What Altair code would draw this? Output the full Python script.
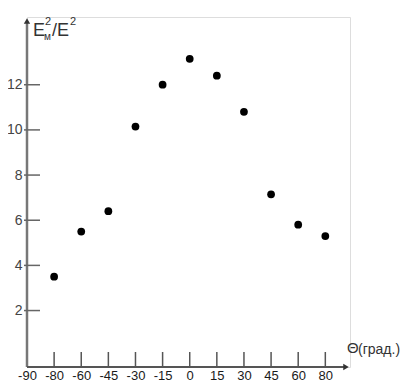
import json
import altair as alt
import pandas as pd

# ---- data ----
tick_labels = ["-90", "-80", "-60", "-45", "-30", "-15", "0", "15", "30", "45", "60", "80"]
point_angles = ["-80", "-60", "-45", "-30", "-15", "0", "15", "30", "45", "60", "80"]
ratio = [3.5, 5.5, 6.4, 10.15, 12.0, 13.15, 12.4, 10.8, 7.15, 5.8, 5.3]
y_ticks = [2, 4, 6, 8, 10, 12]

W, H = 323, 350
FONT = "Liberation Sans, Arial, sans-serif"

pts = pd.DataFrame({
    "angle": point_angles,
    "pos": [tick_labels.index(a) for a in point_angles],
    "ratio": ratio,
})
xt = pd.DataFrame({"pos": list(range(1, len(tick_labels)))})
yt = pd.DataFrame({"ratio": y_ticks})

xscale = alt.Scale(domain=[0, 11.91], nice=False, zero=False)
yscale = alt.Scale(domain=[-0.5, 15], nice=False, zero=False)

label_expr = json.dumps(tick_labels) + "[datum.value]"

xaxis = alt.Axis(values=list(range(len(tick_labels))), labelExpr=label_expr,
                 domain=False, ticks=False, grid=False, title=None,
                 labelPadding=12, labelBaseline="alphabetic",
                 labelFontSize=13, labelColor="#1a1a1a",
                 labelFont=FONT, labelFlush=False, labelOverlap=False)
yaxis = alt.Axis(values=y_ticks, domain=False, ticks=False, grid=False,
                 title=None, labelPadding=5, labelFontSize=14,
                 labelColor="#444", labelFont=FONT, labelOverlap=False)

points = alt.Chart(pts).mark_circle(size=60, color="black", opacity=1).encode(
    x=alt.X("pos:Q", scale=xscale, axis=xaxis),
    y=alt.Y("ratio:Q", scale=yscale, axis=yaxis),
    tooltip=["angle", "ratio"],
)

one = alt.Data(values=[{"k": 1}])

xaxis_line = alt.Chart(one).mark_rule(color="#555", strokeWidth=2).encode(
    x=alt.value(0), x2=alt.value(W - 4), y=alt.value(H))
yaxis_line = alt.Chart(one).mark_rule(color="#777", strokeWidth=2.5).encode(
    x=alt.value(0), y=alt.value(H), y2=alt.value(4))
xarrow = alt.Chart(one).mark_point(shape="triangle-right", filled=True, size=40,
                                   color="#333", opacity=1).encode(
    x=alt.value(W - 4), y=alt.value(H))
yarrow = alt.Chart(one).mark_point(shape="triangle-up", filled=True, size=40,
                                   color="#333", opacity=1).encode(
    x=alt.value(0), y=alt.value(4))

xticks = alt.Chart(xt).mark_rule(color="#555", strokeWidth=1.5).encode(
    x=alt.X("pos:Q", scale=xscale, axis=xaxis), y=alt.value(H), y2=alt.value(H - 15))
yticks = alt.Chart(yt).mark_rule(color="#666", strokeWidth=1.5).encode(
    y=alt.Y("ratio:Q", scale=yscale, axis=yaxis), x=alt.value(-3), x2=alt.value(13))


def txt(s, x, y, size, color="#333"):
    return alt.Chart(one).mark_text(text=s, align="left", baseline="alphabetic",
                                    fontSize=size, font=FONT, color=color).encode(
        x=alt.value(x), y=alt.value(y))


ytitle = (txt("E", 6, 19, 18) + txt("2", 18, 8, 11) + txt("м", 17, 23, 10)
          + txt("/E", 25, 19, 18) + txt("2", 43, 8, 11))
xtitle = txt("Θ", 320, 336, 15) + txt("(град.)", 331, 337, 14)

chart = alt.layer(
    points, yaxis_line, xaxis_line, xticks, yticks, xarrow, yarrow, ytitle, xtitle
).properties(
    width=W, height=H,
    autosize=alt.AutoSizeParams(type="none"),
    padding={"left": 19, "top": 9, "right": 51, "bottom": 14},
).configure_view(stroke=None).configure(background="white")

chart.save("out.html", embed_options={"renderer": "svg", "actions": False})
